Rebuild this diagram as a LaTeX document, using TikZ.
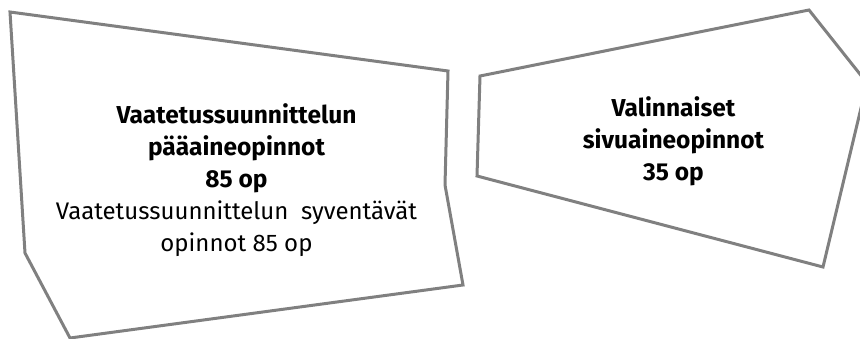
\documentclass[tikz,border=0pt]{standalone}
\usepackage{fontspec}
\setmainfont{Fira Sans}
\begin{document}
\begin{tikzpicture}[x=1pt,y=-1pt,
  shapeline/.style={draw=black!50, line width=3pt, line join=miter},
  label/.style={align=center, inner sep=0pt, font=\fontsize{24}{32}\selectfont}]
\useasboundingbox (0,0) rectangle (860,339);
\clip (0,0) rectangle (860,339);
\draw[shapeline] (10,12) -- (448,71) -- (445,185) -- (463,285) -- (70,338) -- (25,253) -- cycle;
\draw[shapeline] (480,76) -- (809,10) -- (867,83) -- (823,267) -- (477,176) -- cycle;
\node[label] (main) at (236.5,180) {{\fontsize{24.5}{32}\selectfont\bfseries Vaatetussuunnittelun}\\{\fontsize{24.5}{32}\selectfont\bfseries pääaineopinnot}\\{\fontsize{24.5}{32}\selectfont\bfseries 85 op}\\Vaatetussuunnittelun\ \ syventävät\\opinnot 85 op};
\node[label] (side) at (673.5,141) {{\fontsize{24.5}{32}\selectfont\bfseries Valinnaiset}\\{\fontsize{24.5}{32}\selectfont\bfseries sivuaineopinnot}\\{\fontsize{24.5}{32}\selectfont\bfseries 35 op}};
\end{tikzpicture}
\end{document}
